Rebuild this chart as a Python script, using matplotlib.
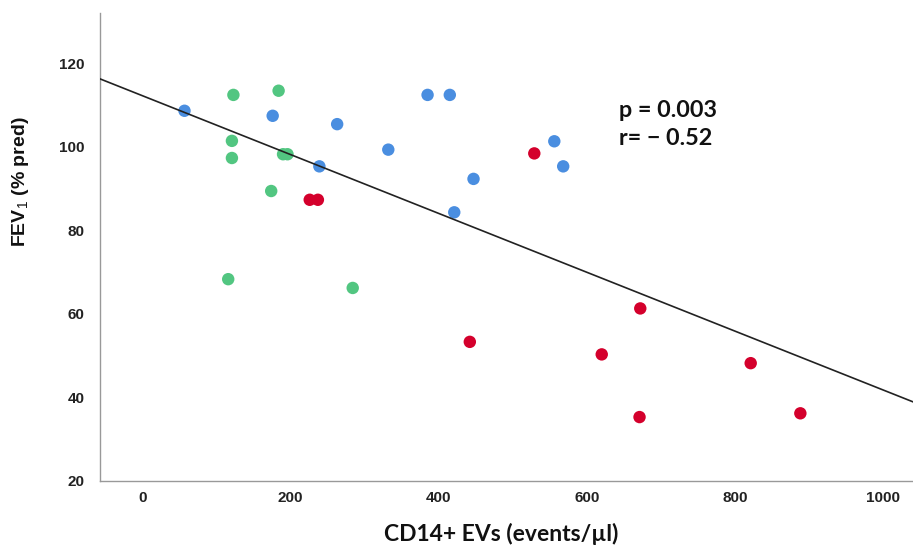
import numpy as np
import matplotlib
matplotlib.use("Agg")
import matplotlib.pyplot as plt

plt.rcParams['mathtext.fontset'] = 'custom'
plt.rcParams['mathtext.rm'] = 'Liberation Sans'
plt.rcParams['mathtext.bf'] = 'Liberation Sans:bold'

# CD14+ EVs (events/ul) vs FEV1 (% pred)
blue_x = [57, 176, 263, 332, 385, 415, 239, 447, 421, 556, 568]
blue_y = [108.6, 107.4, 105.4, 99.3, 112.4, 112.4, 95.3, 92.3, 84.3, 101.3, 95.3]

green_x = [123, 184, 121, 121, 190, 196, 174, 116, 284]
green_y = [112.4, 113.4, 101.4, 97.3, 98.2, 98.2, 89.4, 68.3, 66.2]

red_x = [226, 237, 529, 672, 442, 620, 821, 671, 888]
red_y = [87.3, 87.3, 98.4, 61.3, 53.3, 50.3, 48.2, 35.3, 36.2]

xticks = [0, 200, 400, 600, 800, 1000]
yticks = [20, 40, 60, 80, 100, 120]

fig = plt.figure(figsize=(9.13, 5.46), dpi=100)
ax = fig.add_axes([100/913, 1 - 481/546, 1 - 100/913, (481 - 13)/546])

ax.scatter(blue_x, blue_y, s=80, color='#4a8ee0', edgecolors='none', zorder=2)
ax.scatter(green_x, green_y, s=80, color='#52c681', edgecolors='none', zorder=2)
ax.scatter(red_x, red_y, s=80, color='#d4002c', edgecolors='none', zorder=2)

# regression line fitted on all points
all_x = np.array(blue_x + green_x + red_x)
all_y = np.array(blue_y + green_y + red_y)
slope, icpt = np.polyfit(all_x, all_y, 1)
xl = np.array([-60, 1050])
ax.plot(xl, icpt + slope * xl, color='#222222', lw=1.2, zorder=3)

ax.set_xlim(-57, 1040)
ax.set_ylim(20, 132)
ax.set_xticks(xticks)
ax.set_yticks(yticks)
ax.tick_params(length=0)
ax.tick_params(axis='x', pad=7.5)
ax.tick_params(axis='y', pad=11)
for lab in ax.get_xticklabels() + ax.get_yticklabels():
    lab.set_fontfamily('Liberation Sans')
    lab.set_fontweight('bold')
    lab.set_fontsize(11)
    lab.set_color('#222222')

for s in ['top', 'right']:
    ax.spines[s].set_visible(False)
for s in ['left', 'bottom']:
    ax.spines[s].set_color('#999999')
    ax.spines[s].set_linewidth(1.0)

fig.text(501 / 913, 1 - 534 / 546, 'CD14+ EVs (events/\u00b5l)',
         family=['Lato', 'DejaVu Sans'], fontweight='bold', fontsize=16.5,
         color='#111111', ha='center', va='center')
ax.set_ylabel(r'FEV$_\mathrm{1}$ (% pred)', family='Liberation Sans',
              fontweight='bold', fontsize=14, color='#111111')
ax.yaxis.set_label_coords(-(100 - 31) / 813, (481 - 182) / 468)

fig.text(619 / 913, 1 - 124.5 / 546, 'p = 0.003\nr= \u2212 0.52',
         ha='left', va='center', family=['Lato', 'DejaVu Sans'],
         fontweight='bold', fontsize=16.8, linespacing=1.45, color='#111111')

fig.savefig('out.png', dpi=100)
